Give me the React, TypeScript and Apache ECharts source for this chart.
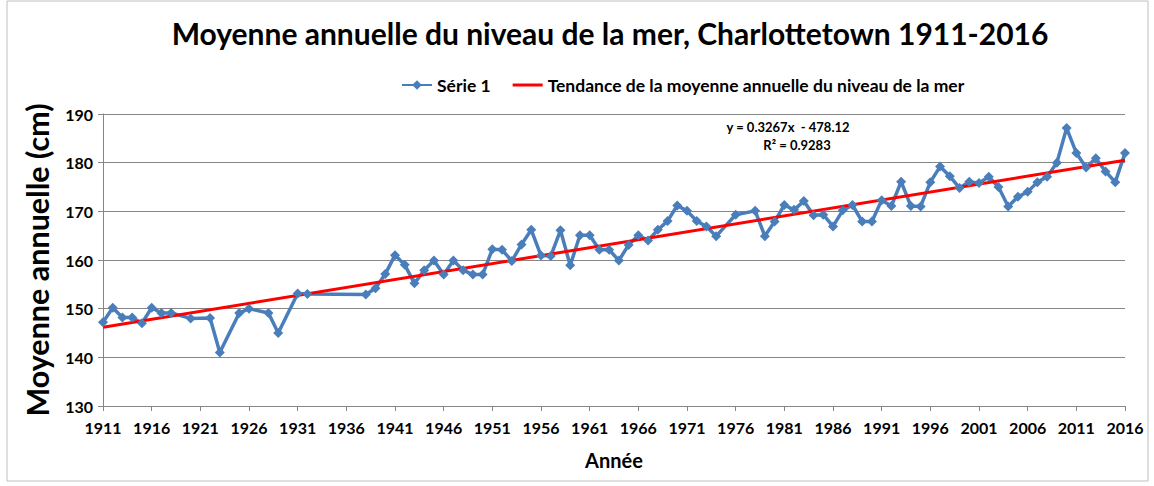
import React, { useEffect, useRef } from "react";
import * as echarts from "echarts";

const years: string[] = [
  "1911","1912","1913","1914","1915","1916","1917","1918","1919","1920",
  "1921","1922","1923","1924","1925","1926","1927","1928","1929","1930",
  "1931","1932","1933","1934","1935","1936","1937","1938","1939","1940",
  "1941","1942","1943","1944","1945","1946","1947","1948","1949","1950",
  "1951","1952","1953","1954","1955","1956","1957","1958","1959","1960",
  "1961","1962","1963","1964","1965","1966","1967","1968","1969","1970",
  "1971","1972","1973","1974","1975","1976","1977","1978","1979","1980",
  "1981","1982","1983","1984","1985","1986","1987","1988","1989","1990",
  "1991","1992","1993","1994","1995","1996","1997","1998","1999","2000",
  "2001","2002","2003","2004","2005","2006","2007","2008","2009","2010",
  "2011","2012","2013","2014","2015","2016",
];

// Annual mean sea level (cm); null = no data for that year
const seaLevel: (number | null)[] = [
  147.2, 150.2, 148.2, 148.2, 147.0, 150.2, 149.1, 149.1, null, 148.0,
  null, 148.1, 141.0, null, 149.1, 150.0, null, 149.1, 145.0, null,
  153.1, 153.0, null, null, null, null, null, 152.9, 154.2, 157.1,
  161.0, 159.0, 155.2, 157.9, 159.9, 157.0, 159.9, 157.9, 157.0, 157.0,
  162.2, 162.1, 159.8, 163.2, 166.2, 160.9, 160.8, 166.1, 158.9, 165.1,
  165.1, 162.1, 162.1, 159.9, 163.1, 165.1, 164.0, 166.2, 168.0, 171.2,
  170.1, 168.0, 166.9, 164.9, null, 169.3, null, 170.1, 164.9, 167.9,
  171.3, 170.3, 172.1, 169.2, 169.3, 166.9, 170.2, 171.3, 167.9, 167.9,
  172.3, 171.1, 176.1, 171.1, 171.0, 176.0, 179.2, 177.2, 174.8, 176.1,
  175.8, 177.1, 175.0, 171.0, 173.0, 174.0, 176.0, 177.1, 180.0, 187.1,
  182.0, 179.0, 180.9, 178.2, 176.0, 182.0,
];

// Trend line endpoints (cm) at first and last year
const trendYears: string[] = ["1911", "2016"];
const trendValues: number[] = [146.2, 180.5];

const yTicks = { min: 130, max: 190, interval: 10 };

const titleText = "Moyenne annuelle du niveau de la mer, Charlottetown 1911-2016";
const seriesName = "Série 1";
const trendName = "Tendance de la moyenne annuelle du niveau de la mer";
const equationText = "y = 0.3267x  - 478.12";
const r2Text = "R² = 0.9283";

const FONT = "Lato, 'Liberation Sans', sans-serif";

export default function App() {
  const ref = useRef<HTMLDivElement>(null);
  useEffect(() => {
    if (!ref.current) return;
    const chart = echarts.init(ref.current, undefined, { renderer: "svg" });
    chart.setOption({
      animation: false,
      backgroundColor: "#ffffff",
      textStyle: { fontFamily: FONT },
      title: {
        text: titleText,
        left: 605,
        top: 13,
        textAlign: "center",
        textStyle: { fontFamily: FONT, fontWeight: "bold", fontSize: 30, color: "#000" },
      },
      legend: {
        left: 396,
        top: 71,
        itemWidth: 30,
        itemHeight: 12,
        itemGap: 22,
        textStyle: { fontFamily: FONT, fontWeight: "bold", fontSize: 17.5, color: "#000" },
        data: [
          seriesName,
          { name: trendName, icon: "path://M0,0 M0,12 M0,4.5 L30,4.5 L30,7.5 L0,7.5 Z" },
        ],
      },
      grid: { left: 103, top: 114, width: 1022, height: 292, containLabel: false },
      xAxis: {
        type: "category",
        data: years,
        boundaryGap: false,
        name: "Année",
        nameLocation: "middle",
        nameGap: 44,
        nameTextStyle: { fontFamily: FONT, fontWeight: "bold", fontSize: 20, color: "#000" },
        axisLine: { lineStyle: { color: "#868686", width: 1 } },
        axisTick: { show: true, interval: 4, length: 5, lineStyle: { color: "#868686" } },
        axisLabel: {
          interval: 4,
          margin: 13,
          fontFamily: FONT,
          fontWeight: "bold",
          fontSize: 16,
          color: "#000",
        },
        splitLine: { show: false },
      },
      yAxis: {
        type: "value",
        min: yTicks.min,
        max: yTicks.max,
        interval: yTicks.interval,
        name: "Moyenne annuelle (cm)",
        nameLocation: "middle",
        nameGap: 51,
        nameTextStyle: { fontFamily: FONT, fontWeight: "bold", fontSize: 30.5, color: "#000" },
        axisLine: { show: true, lineStyle: { color: "#868686", width: 1 } },
        axisTick: { show: true, length: 5, lineStyle: { color: "#868686" } },
        axisLabel: { margin: 10, fontFamily: FONT, fontWeight: "bold", fontSize: 16, color: "#000" },
        splitLine: { show: true, lineStyle: { color: "#868686", width: 1 } },
      },
      series: [
        {
          name: seriesName,
          type: "line",
          data: seaLevel,
          connectNulls: true,
          symbol: "diamond",
          symbolSize: 10,
          showAllSymbol: true,
          lineStyle: { color: "#4a7ebb", width: 3.5 },
          itemStyle: { color: "#4a7ebb" },
        },
        {
          name: trendName,
          type: "line",
          data: trendYears.map((y, i) => [y, trendValues[i]]),
          symbol: "none",
          lineStyle: { color: "#ff0000", width: 3 },
          itemStyle: { color: "#ff0000" },
        },
      ],
      graphic: [
        {
          type: "rect",
          shape: { x: 7, y: 1, width: 1141, height: 480 },
          style: { fill: "none", stroke: "#bfbfbf", lineWidth: 1 },
          silent: true,
        },
        {
          type: "text",
          x: 788,
          y: 127,
          style: {
            text: equationText,
            align: "center",
            verticalAlign: "middle",
            fontFamily: FONT,
            fontWeight: "bold",
            fontSize: 13,
            fill: "#000",
          },
        },
        {
          type: "text",
          x: 797,
          y: 145,
          style: {
            text: r2Text,
            align: "center",
            verticalAlign: "middle",
            fontFamily: FONT,
            fontWeight: "bold",
            fontSize: 13,
            fill: "#000",
          },
        },
      ],
    });
    return () => chart.dispose();
  }, []);
  return (
    <div
      ref={ref}
      style={{ position: "absolute", left: 0, top: 0, width: 1154, height: 486 }}
    />
  );
}
